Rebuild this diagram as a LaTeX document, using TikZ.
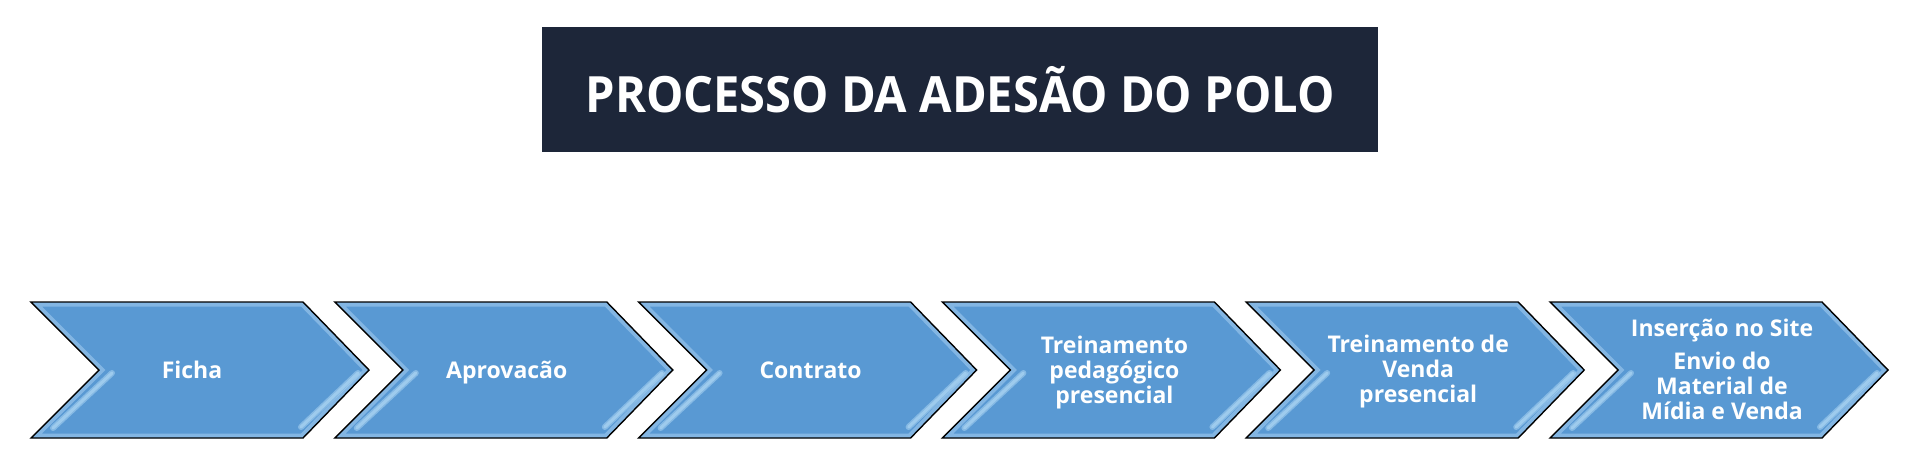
\documentclass[tikz,border=0pt]{standalone}
\usepackage{fontspec}
\setmainfont{Open Sans}
\definecolor{chevblue}{RGB}{89,153,211}
\definecolor{chevglow}{RGB}{150,195,235}
\definecolor{chevshine}{RGB}{170,212,242}
\definecolor{titlebg}{RGB}{29,38,57}
\tikzset{
  chevpath/.style={insert path={(#1,302) -- ++(272,0) -- ++(66,68) -- ++(-66,68) -- ++(-272,0) -- ++(68,-68) -- cycle}},
  chevtext/.style={text=white, font=\fontsize{11.5}{12.5}\selectfont\bfseries, align=center, inner sep=0pt, anchor=base},
  shine/.style={chevshine, line width=3pt, line cap=round, opacity=0.55},
  shinecore/.style={chevshine, line width=1.5pt, line cap=round, opacity=0.7},
}
\begin{document}
\begin{tikzpicture}[x=0.5pt,y=-0.5pt]
\useasboundingbox (0,0) rectangle (1920,462);
% title
\node[fill=titlebg, minimum width=418pt, minimum height=62.5pt, inner sep=0pt, text=white,
      font=\fontsize{25}{30}\selectfont\bfseries] (title) at (960,89.5) {\scalebox{0.94}[1]{PROCESSO DA ADESÃO DO POLO}};
% chevrons
\foreach \i in {0,...,5}{
  \pgfmathsetmacro{\L}{31+303.8*\i}
  \fill[chevblue][chevpath=\L];
  \begin{scope}
    \clip[chevpath=\L];
    \draw[chevglow, line width=4.5pt, opacity=0.7][chevpath=\L];
  \end{scope}
  \draw[shine] (\L+81,373) -- (\L+22,428);
  \draw[shinecore] (\L+81,373) -- (\L+22,428);
  \draw[shine] (\L+327,373) -- (\L+270,427);
  \draw[shinecore] (\L+327,373) -- (\L+270,427);
  \draw[black, line width=0.7pt, line join=miter][chevpath=\L];
}
\node[chevtext] (t1) at (192,378) {Ficha};
\node[chevtext] (t2) at (31+303.8+172,378) {Aprovacão};
\node[chevtext] (t3) at (31+2*303.8+172,378) {Contrato};
\node[chevtext] (t4) at (31+3*303.8+172,403) {Treinamento\\pedagógico\\presencial};
\node[chevtext] (t5) at (31+4*303.8+172,402) {Treinamento de\\Venda\\presencial};
\node[chevtext] (t6) at (31+5*303.8+172,419) {Inserção no Site\\[4pt]Envio do\\Material de\\Mídia e Venda};
\end{tikzpicture}
\end{document}
